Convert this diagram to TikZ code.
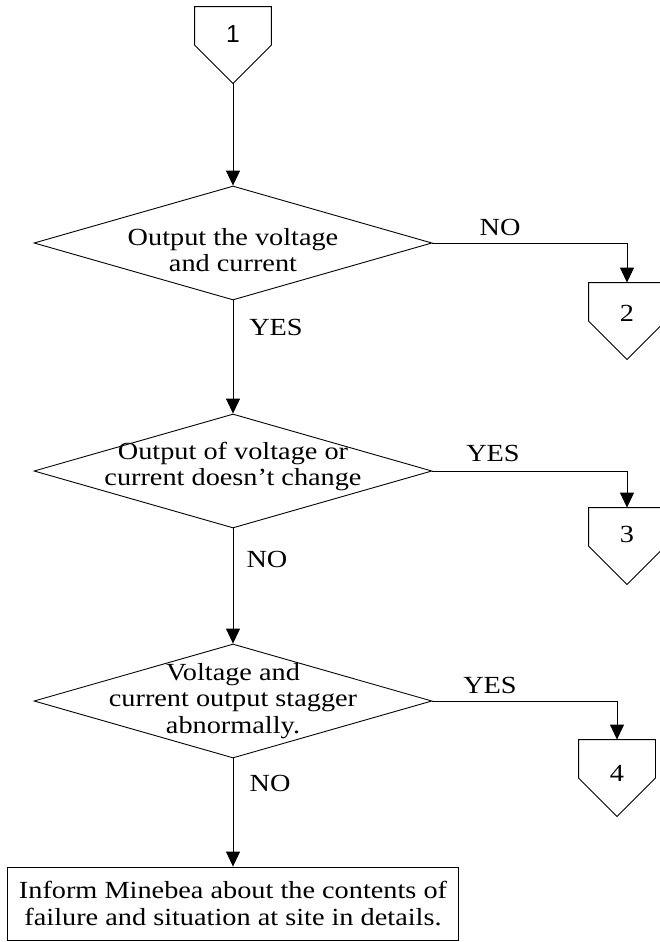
\documentclass[tikz,border=0pt]{standalone}
\usepackage{fontspec}
\setmainfont{Liberation Serif}[FakeStretch=1.15]
\newfontfamily\numfont{Liberation Sans}
\usetikzlibrary{arrows.meta,shapes.geometric}

\begin{document}
\begin{tikzpicture}[x=0.02cm, y=-0.02cm, line width=0.5pt,
		font=\fontsize{14pt}{15pt}\selectfont,
		D/.style = {diamond, draw, inner sep=0, minimum width=7.96cm, minimum height=2.28cm},
		C/.style = {inner sep=0, minimum width=1.52cm, minimum height=1.52cm},
		B/.style = {rectangle, draw, align=center, inner sep=0,
			minimum width=9.02cm, minimum height=1.46cm},
		L/.style = {inner sep=0},
		arr/.style = {-{Triangle[length=0.3cm,width=0.28cm]}}
		]
		\useasboundingbox (0,0) rectangle (659,942);
		
		\node[C, label={[yshift=0.22cm]center:\numfont 1}] (c1) at (233,45) {};
		\node[C, label={[yshift=0.15cm]center:2}] (c2) at (627,321) {};
		\node[C, label={[yshift=0.23cm]center:3}] (c3) at (627,546) {};
		\node[C, label={[yshift=0.09cm]center:4}] (c4) at (617,778) {};
		
		\node[D, label={[align=center, yshift=-0.14cm]center:{Output the voltage\\and current}}] (d1) at (233,243) {};
		\node[D, label={[align=center, yshift=0.09cm]center:{Output of voltage or\\current doesn’t change}}] (d2) at (233,471) {};
		\node[D, label={[align=center]center:{Voltage and\\current output stagger\\abnormally.}}] (d3) at (233,701) {};
		
		\node[B] (box) at (233,903.5) {Inform Minebea about the contents of\\failure and situation at site in details.};
		
		\node[L] (no1) at (500,227) {NO};
		\node[L] (yes1) at (276,327) {YES};
		\node[L] (yes2) at (493,453) {YES};
		\node[L] (no2) at (267,559) {NO};
		\node[L] (yes3) at (490,685) {YES};
		\node[L] (no3) at (270,783) {NO};
		
		% off-page connectors
		\foreach \n in {c1,c2,c3,c4}
			\draw (\n.west) -- (\n.north west) -- (\n.north east) -- (\n.east) -- (\n.south) -- cycle;
		
		\draw[arr] (c1.south) -- (d1.north);
		\draw[arr] (d1.east) -| (c2.north);
		\draw[arr] (d1.south) -- (d2.north);
		\draw[arr] (d2.east) -| (c3.north);
		\draw[arr] (d2.south) -- (d3.north);
		\draw[arr] (d3.east) -| (c4.north);
		\draw[arr] (d3.south) -- (box.north);
	\end{tikzpicture}
\end{document}
